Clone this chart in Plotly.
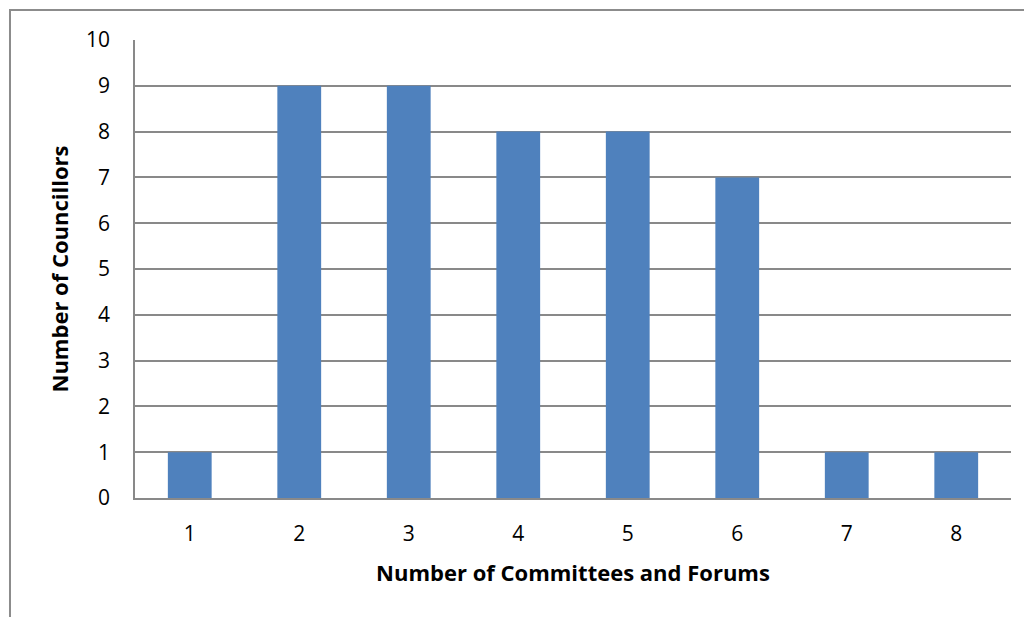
import plotly.graph_objects as go

categories = ["1", "2", "3", "4", "5", "6", "7", "8"]
councillors = [1, 9, 9, 8, 8, 7, 1, 1]
y_ticks = list(range(0, 11))

font_family = "'Open Sans', Lato, sans-serif"
grid_color = "#898989"

fig = go.Figure(
    go.Bar(
        x=categories,
        y=councillors,
        marker=dict(color="#4F81BD", line=dict(width=0)),
    )
)

# the page body adds an 8px offset, so the figure is 8px smaller and margins shifted
fig.update_layout(
    width=1024,
    height=609,
    margin=dict(l=127, r=21, t=32, b=119),
    paper_bgcolor="white",
    plot_bgcolor="white",
    bargap=0.6,
    showlegend=False,
    font=dict(family=font_family, size=21, color="black"),
)

fig.update_xaxes(
    type="category",
    showgrid=False,
    showline=True,
    linecolor=grid_color,
    linewidth=1.5,
    ticks="",
    ticklen=0,
    ticklabelstandoff=16,
    tickfont=dict(size=21),
    title=dict(text="<b>Number of Committees and Forums</b>", font=dict(size=22), standoff=20),
)

fig.update_yaxes(
    range=[0, 10],
    tickvals=y_ticks,
    showgrid=True,
    gridcolor=grid_color,
    gridwidth=1.5,
    showline=True,
    linecolor=grid_color,
    linewidth=1.5,
    zeroline=False,
    ticks="",
    ticklabelstandoff=19,
    tickfont=dict(size=21),
    title=dict(text="<b>Number of Councillors</b>", font=dict(size=22), standoff=11),
)

# outer chart frame (only top and left edges visible in the reference)
fig.add_shape(
    type="rect",
    xref="paper", yref="paper",
    x0=-0.1427, x1=1.04, y0=-0.30, y1=1.0655,
    line=dict(color="#8c8c8c", width=2),
    fillcolor="rgba(0,0,0,0)",
    layer="below",
)

fig.write_html("out.html")
